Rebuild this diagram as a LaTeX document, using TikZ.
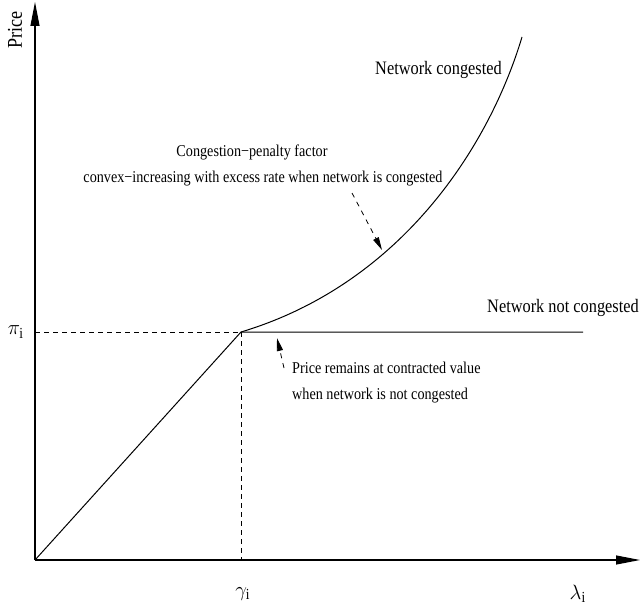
\documentclass[tikz,border=0pt]{standalone}
\usepackage{fontspec}
\setmainfont{Liberation Serif}[FakeStretch=0.86]
\usetikzlibrary{positioning,arrows.meta,calc}

\begin{document}
\begin{tikzpicture}[
  x=1bp, y=-1bp,
  >={Triangle[length=24bp,width=9bp]},
  axis/.style={->, line width=1.1bp},
  curve/.style={line width=1bp},
  guide/.style={line width=0.8bp, dash pattern=on 5bp off 4bp},
  note/.style={-{Triangle[length=13bp,width=6bp]}, line width=0.8bp, dash pattern=on 5bp off 5bp},
  lab/.style={font=\fontsize{19bp}{26bp}\selectfont, inner sep=0pt},
  notelab/.style={font=\fontsize{16.5bp}{26bp}\selectfont, inner sep=0pt},
  mathlab/.style={font=\fontsize{22bp}{26bp}\selectfont, inner sep=0pt}
]
\useasboundingbox (0,0) rectangle (642,610);

% --- axes
\coordinate (O)    at (35,560);
\coordinate (xend) at (640,560);
\coordinate (yend) at (35,2);
\draw[axis] (O) -- (xend);
\draw[axis] (O) -- (yend);

% --- price curve: linear up to the contract point, then flat
\coordinate (K)       at (241,332);
\coordinate (flatend) at (583,332);
\draw[curve] (O) -- (K) -- (flatend);

% --- guide lines to the axes
\coordinate (piax) at (35,332);
\coordinate (gax)  at (241,560);
\draw[guide] (piax) -- (K);
\draw[guide] (K) -- (gax);

% --- congested branch
\coordinate (top) at (522,37);
\draw[curve] (K) .. controls (401,284) and (489,147) .. (top);

% --- axis labels
\node[lab, font=\fontsize{21bp}{26bp}\selectfont, rotate=90] (price) at (15,30) {Price};
\node[mathlab] (pi)     at (16,332)  {$\pi_{\mathrm{i}}$};
\node[mathlab] (gamma)  at (243,594) {$\gamma_{\mathrm{i}}$};
\node[mathlab] (lambda) at (578,594) {$\lambda_{\mathrm{i}}$};

% --- branch labels
\node[lab, anchor=base east] (cong)   at (502,75)  {Network congested};
\node[lab, anchor=base west] (nocong) at (487,312) {Network not congested};

% --- congestion-penalty note
\node[notelab, anchor=base] (penA) at (252,157) {Congestion−penalty factor};
\node[notelab, anchor=base] (penB) at (263,183) {convex−increasing with excess rate when network is congested};
\coordinate (pentail) at (352,193);
\coordinate (pentip)  at (382,250);
\draw[note] (pentail) -- (pentip);

% --- contracted value note
\node[notelab, anchor=base west] (flatA) at (292,373) {Price remains at contracted value};
\node[notelab, anchor=base west] (flatB) at (292,399) {when network is not congested};
\coordinate (flattail) at (284,368);
\coordinate (flattip)  at (277,338);
\draw[note] (flattail) -- (flattip);

\end{tikzpicture}
\end{document}
